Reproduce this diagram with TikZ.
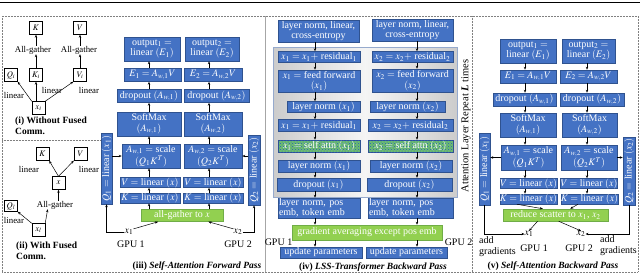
\documentclass[tikz,border=0pt]{standalone}
\usepackage{mathptmx}
\usepackage[no-math]{fontspec}
\setmainfont{Liberation Serif}
\usetikzlibrary{arrows.meta,patterns,calc}
\definecolor{bfill}{RGB}{68,114,196}
\definecolor{bline}{RGB}{47,82,143}
\definecolor{gfill}{RGB}{146,208,80}
\definecolor{gline}{RGB}{112,173,71}
\definecolor{hfill}{RGB}{110,190,110}
\definecolor{hdot}{RGB}{40,90,190}
\definecolor{bgline}{RGB}{150,170,205}
\tikzset{
 sz/.style 2 args={minimum width=#1,minimum height=#2},
 bx/.style={draw=bline, line width=0.5pt, fill=bfill, text=white, inner sep=0pt, align=center, font=\fontsize{10}{10.5}\selectfont},
 gbx/.style={bx, fill=gfill, draw=gline},
 hbx/.style={bx, fill=hfill, postaction={pattern=crosshatch dots, pattern color=hdot}},
 wb/.style={draw, line width=0.4pt, inner sep=0pt, minimum width=13, minimum height=13, font=\fontsize{8.5}{9}\selectfont},
 lab/.style={inner sep=0pt, font=\fontsize{8.8}{9}\selectfont},
 txt/.style={inner sep=0pt, font=\fontsize{10}{11.5}\selectfont},
 capn/.style={inner sep=0pt, align=left, font=\fontsize{9.5}{11}\selectfont\bfseries},
 arr/.style={-{Stealth[length=3pt,width=2.4pt]}, line width=0.5pt},
 dotl/.style={gray, line width=0.6pt, dash pattern=on 0.6pt off 0.9pt},
}
\begin{document}
\begin{tikzpicture}[x=1pt,y=-1pt]
\useasboundingbox (0,0) rectangle (640,274);
% frame
\draw[line width=1.6pt] (0,2.5) -- (640,2.5);
\draw[dotl] (2,16) rectangle (638,272);
\draw[dotl] (2,140) -- (103,140);
\draw[gray!70, line width=0.4pt] (265,16) -- (265,272);
\draw[dotl] (472,16) -- (472,272);

% ---------- panel (i)
\node[wb] (iK) at (36,28) {$K$};
\node[wb] (iV) at (80,28) {$V$};
\node[lab] (iAG1) at (33,50) {All-gather};
\node[lab] (iAG2) at (79,50) {All-gather};
\node[wb] (iQi) at (11,75) {$Q_i$};
\node[wb] (iKi) at (36,75) {$K_i$};
\node[wb] (iVi) at (80,75) {$V_i$};
\node[wb] (ixi) at (38.5,108) {$x_i$};
\node[lab] (il1) at (14,95) {linear};
\node[lab] (il2) at (52,90) {linear};
\node[lab] (il3) at (89,90) {linear};
\draw[arr] (iAG1.north -| iK) -- (iK);
\draw[arr] (iAG2.north -| iV) -- (iV);
\draw[arr] (iKi) -- (iAG1.south -| iKi);
\draw[arr] (iVi) -- (iAG2.south -| iVi);
\draw[arr] (ixi.north -| iKi) -- (iKi);
\draw[arr] (ixi.north west) -- (iQi.south east);
\draw[arr] (ixi.north east) -- (iVi.south west);
\node[capn, anchor=north west] (icap) at (15,117) {(i) Without Fused\\Comm.};

% ---------- panel (ii)
\node[wb] (jK) at (42.5,154) {$K$};
\node[wb] (jV) at (80.5,154) {$V$};
\node[lab] (jl1) at (29,169) {linear};
\node[lab] (jl2) at (89,169) {linear};
\node[wb] (jx) at (58.5,183) {$x$};
\node[lab] (jAG) at (55,205) {All-gather};
\node[wb, minimum height=11] (jQ) at (11,206) {$Q_l$};
\node[lab] (jl3) at (14,220) {linear};
\node[wb] (jxl) at (38.5,230) {$x_l$};
\draw[arr] (jx.north) -- (jK.south east);
\draw[arr] (jx.north) -- (jV.south west);
\draw[arr] (jAG.north -| jx) -- (jx);
\draw[arr] (jxl.north west) -- (jQ.south east);
\draw[arr] (jxl.north east) -- ($(jAG.south west)!0.3!(jAG.south east)$);
\node[capn, anchor=north west] (jcap) at (16,242) {(ii) With Fused\\Comm.};

% ---------- panel (iii)
\coordinate (c1) at (149,0);
\coordinate (c2) at (209,0);
\node[bx, sz={56}{24}] (tO1) at (152,49) {output$_1 =$\\linear $(E_1)$};
\node[bx, sz={54}{24}] (tO2) at (212,49) {output$_2 =$\\linear $(E_2)$};
\node[bx, sz={57}{13}] (tE1) at (152.5,75) {$E_1 = A_{w,1}V$};
\node[bx, sz={58}{13}] (tE2) at (213,75) {$E_2 = A_{w,2}V$};
\node[bx, sz={64}{13}] (tD1) at (149,96) {dropout $(A_{w,1})$};
\node[bx, sz={65}{13}] (tD2) at (216.5,96) {dropout $(A_{w,2})$};
\node[bx, sz={64}{24}] (tS1) at (149,124) {SoftMax\\$(A_{w,1})$};
\node[bx, sz={58}{24}] (tS2) at (213,124) {SoftMax\\$(A_{w,2})$};
\node[bx, sz={58}{24}] (tA1) at (151,156) {$A_{w,1} =$ scale\\$(Q_1K^T)$};
\node[bx, sz={58}{24}] (tA2) at (213,156) {$A_{w,2} =$ scale\\$(Q_2K^T)$};
\node[bx, sz={60}{10}] (tV1) at (150,182.5) {$V =$ linear $(x)$};
\node[bx, sz={60}{10}] (tV2) at (213,182.5) {$V =$ linear $(x)$};
\node[bx, sz={60}{10}] (tK1) at (150,198) {$K =$ linear $(x)$};
\node[bx, sz={60}{10}] (tK2) at (213,198) {$K =$ linear $(x)$};
\node[gbx, sz={82}{12}] (tG) at (182,215.5) {all-gather to $x$};
\node[bx, sz={11}{71}] (tQ1) at (106.5,168.5) {\rotatebox{90}{$Q_1 =$ linear $(x_1)$}};
\node[bx, sz={12}{70}] (tQ2) at (254,170) {\rotatebox{90}{$Q_2 =$ linear $(x_2)$}};
\node[txt] (tx1) at (129,232) {$x_1$};
\node[txt] (tg1) at (131,244) {GPU 1};
\node[txt] (tx2) at (238,232) {$x_2$};
\node[txt] (tg2) at (238,244) {GPU 2};
\foreach \a/\b in {tG/tK1,tK1/tV1,tV1/tA1,tA1/tS1,tS1/tD1,tD1/tE1,tE1/tO1}
  \draw[arr] (\a.north -| c1) -- (\b.south -| c1);
\foreach \a/\b in {tG/tK2,tK2/tV2,tV2/tA2,tA2/tS2,tS2/tD2,tD2/tE2,tE2/tO2}
  \draw[arr] (\a.north -| c2) -- (\b.south -| c2);
\draw[arr] (tA1.west -| tQ1.east) -- (tA1.west);
\draw[arr] (tA2.east -| tQ2.west) -- (tA2.east);
\draw[arr] (tx1.west) -| (tQ1.south);
\draw[arr] (tx2.east) -| (tQ2.south);
\draw[arr] (tx1.north east) -- ($(tG.south west)!0.21!(tG.south east)$);
\draw[arr] (tx2.north west) -- ($(tG.south west)!0.82!(tG.south east)$);
\node[capn] (tcap) at (197,266) {(iii) \textit{Self-Attention Forward Pass}};

% ---------- panel (iv)
\node[draw=bgline, line width=0.8pt, left color=gray!40, right color=gray!40, middle color=gray!8, sz={184}{150}, inner sep=0pt] (bg) at (365,122) {};
\coordinate (d1) at (315,0);
\coordinate (d2) at (417,0);
\node[bx, sz={81}{22}] (lA) at (318.5,31) {layer norm, linear,\\cross-entropy};
\node[bx, sz={81}{22}] (lB) at (412.5,30) {layer norm, linear,\\cross-entropy};
\node[bx, sz={82}{11}] (rA1) at (319,57) {$x_1 = x_1 +$ residual$_1$};
\node[bx, sz={81}{11}] (rB1) at (412.5,57) {$x_2 = x_2 +$ residual$_2$};
\node[bx, sz={82}{22}] (fA) at (319,81) {$x_1 =$ feed forward\\$(x_1)$};
\node[bx, sz={81}{23}] (fB) at (412.5,80.5) {$x_2 =$ feed forward\\$(x_2)$};
\node[bx, sz={73}{11}] (nA1) at (323.5,107) {layer norm $(x_1)$};
\node[bx, sz={75}{11}] (nB1) at (407.5,107) {layer norm $(x_2)$};
\node[bx, sz={82}{12}] (rA2) at (319,125.5) {$x_1 = x_1 +$ residual$_1$};
\node[bx, sz={85}{12}] (rB2) at (410.5,125.5) {$x_2 = x_2 +$ residual$_2$};
\node[hbx, sz={82}{12}] (sA) at (319,146) {$x_1 =$ self attn $(x_1)$};
\node[hbx, sz={85}{12}] (sB) at (410.5,146) {$x_2 =$ self attn $(x_2)$};
\node[bx, sz={82}{12}] (nA2) at (319,166) {layer norm $(x_1)$};
\node[bx, sz={82}{12}] (nB2) at (411,166) {layer norm $(x_2)$};
\node[bx, sz={83}{13}] (dA) at (318.5,184.5) {dropout $(x_1)$};
\node[bx, sz={85}{13}] (dB) at (409.5,184.5) {dropout $(x_2)$};
\node[bx, text width=80, inner xsep=1, minimum height=20, align=left] (pA) at (319,208) {layer norm, pos\\emb, token emb};
\node[bx, text width=83, inner xsep=1, minimum height=20, align=left] (pB) at (410.5,208) {layer norm, pos\\emb, token emb};
\node[gbx, sz={150}{15}] (gA) at (367,232.5) {gradient averaging except pos emb};
\node[bx, sz={82}{11}] (uA) at (321,252.5) {update parameters};
\node[bx, sz={81}{11}] (uB) at (406.5,252.5) {update parameters};
\node[txt] (gpA) at (278.5,242) {GPU 1};
\node[txt] (gpB) at (458.5,242) {GPU 2};
\node[txt, rotate=90, font=\fontsize{10.5}{12}\selectfont] (rep) at (466,126) {Attention Layer Repeat \textbf{\textit{L}} times};
\foreach \a/\b in {lA/rA1,rA1/fA,fA/nA1,nA1/rA2,rA2/sA,sA/nA2,nA2/dA,dA/pA,pA/gA,gA/uA}
  \draw[arr] (\a.south -| d1) -- (\b.north -| d1);
\foreach \a/\b in {lB/rB1,rB1/fB,fB/nB1,nB1/rB2,rB2/sB,sB/nB2,nB2/dB,dB/pB,pB/gA,gA/uB}
  \draw[arr] (\a.south -| d2) -- (\b.north -| d2);
\node[capn] (fcap) at (373,267) {(iv) \textit{LSS-Transformer Backward Pass}};

% ---------- panel (v)
\coordinate (e1) at (525,0);
\coordinate (e2) at (587,0);
\node[bx, sz={56}{24}] (vO1) at (528,51) {output$_1 =$\\linear $(E_1)$};
\node[bx, sz={53}{24}] (vO2) at (588.5,51) {output$_2 =$\\linear $(E_2)$};
\node[bx, sz={56}{13}] (vE1) at (528,76.5) {$E_1 = A_{w,1}V$};
\node[bx, sz={57}{13}] (vE2) at (588.5,76.5) {$E_2 = A_{w,2}V$};
\node[bx, sz={63}{13}] (vD1) at (524.5,99.5) {dropout $(A_{w,1})$};
\node[bx, sz={64}{13}] (vD2) at (592,99.5) {dropout $(A_{w,2})$};
\node[bx, sz={56}{24}] (vS1) at (528,125) {SoftMax\\$(A_{w,1})$};
\node[bx, sz={55}{24}] (vS2) at (589.5,125) {SoftMax\\$(A_{w,2})$};
\node[bx, sz={55}{25}] (vA1) at (528.5,157.5) {$A_{w,1} =$ scale\\$(Q_1K^T)$};
\node[bx, sz={56}{25}] (vA2) at (589,157.5) {$A_{w,2} =$ scale\\$(Q_2K^T)$};
\node[bx, sz={55}{10}] (vV1) at (528.5,183.5) {$V =$ linear $(x)$};
\node[bx, sz={56}{10}] (vV2) at (589,183.5) {$V =$ linear $(x)$};
\node[bx, sz={55}{10}] (vK1) at (528.5,199) {$K =$ linear $(x)$};
\node[bx, sz={57}{10}] (vK2) at (589.5,199) {$K =$ linear $(x)$};
\node[gbx, sz={105}{12}] (vR) at (555.5,215) {reduce scatter to $x_1$, $x_2$};
\node[bx, sz={11}{72}] (vQ1) at (484.5,169) {\rotatebox{90}{$Q_1 =$ linear $(x_1)$}};
\node[bx, sz={12}{68}] (vQ2) at (629,171) {\rotatebox{90}{$Q_2 =$ linear $(x_2)$}};
\node[txt] (vx1) at (529,234) {$x_1$};
\node[txt] (vg1) at (534,248) {GPU 1};
\node[txt] (vx2) at (581,234) {$x_2$};
\node[txt] (vg2) at (579,248) {GPU 2};
\node[txt, anchor=north west, align=left] (vad1) at (479,236) {add\\gradients};
\node[txt, anchor=north west, align=left] (vad2) at (600,235) {add\\gradients};
\foreach \a/\b in {vO1/vE1,vE1/vD1,vD1/vS1,vS1/vA1,vA1/vV1,vV1/vK1}
  \draw[arr] (\a.south -| e1) -- (\b.north -| e1);
\foreach \a/\b in {vO2/vE2,vE2/vD2,vD2/vS2,vS2/vA2,vA2/vV2,vV2/vK2}
  \draw[arr] (\a.south -| e2) -- (\b.north -| e2);
\draw[arr] (vA1.west) -- (vA1.west -| vQ1.east);
\draw[arr] (vA2.east) -- (vA2.east -| vQ2.west);
\draw[arr] ($(vK1.south west)!0.3!(vK1.south east)$) -- ($(vR.north west)!0.38!(vR.north east)$);
\draw[arr] ($(vK2.south west)!0.3!(vK2.south east)$) -- ($(vR.north west)!0.64!(vR.north east)$);
\draw[arr] ($(vR.south west)!0.33!(vR.south east)$) -- (vx1.north);
\draw[arr] ($(vR.south west)!0.53!(vR.south east)$) -- (vx2.north);
\draw[arr] (vQ1.south) |- (vx1.west);
\draw[arr] (vQ2.south) |- (vx2.east);
\node[capn] (vcap) at (553,266) {(v) \textit{Self-Attention Backward Pass}};
\end{tikzpicture}
\end{document}
